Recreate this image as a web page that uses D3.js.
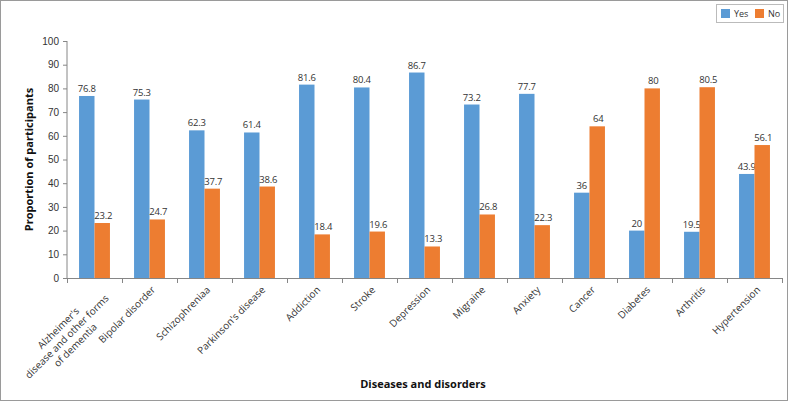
<!DOCTYPE html>
<html>
<head>
<meta charset="utf-8">
<script src="https://cdn.jsdelivr.net/npm/d3@7"></script>
<style>
  body { margin: 0; background: #fff; }
  svg { display: block; font-family: "Open Sans", sans-serif; }
  .axis path, .axis line { stroke: #868686; }
  .axis text { fill: #333; font-size: 10px; }
  .value { fill: #333; font-size: 9.5px; text-anchor: middle; letter-spacing: -0.2px; }
  .title { fill: #111; font-size: 11px; font-weight: bold; }
</style>
</head>
<body>
<div id="chart"></div>
<script>
  const categories = [
    ["Alzheimer's", 'disease and other forms', 'of dementia'],
    ['Bipolar disorder'], ['Schizophreniaa'], ["Parkinson's disease"],
    ['Addiction'], ['Stroke'], ['Depression'], ['Migraine'], ['Anxiety'],
    ['Cancer'], ['Diabetes'], ['Arthritis'], ['Hypertension']
  ];
  const yesValues = [76.8, 75.3, 62.3, 61.4, 81.6, 80.4, 86.7, 73.2, 77.7, 36, 20, 19.5, 43.9];
  const noValues = [23.2, 24.7, 37.7, 38.6, 18.4, 19.6, 13.3, 26.8, 22.3, 64, 80, 80.5, 56.1];
  const seriesNames = ['Yes', 'No'];
  const seriesColors = ['#5B9BD5', '#ED7D31'];
  const yTicks = [0, 10, 20, 30, 40, 50, 60, 70, 80, 90, 100];

  const width = 788, height = 401;
  const margin = { top: 41, right: 6, bottom: 123, left: 67 };
  const innerW = width - margin.left - margin.right;
  const innerH = height - margin.top - margin.bottom;

  const svg = d3.select('#chart').append('svg')
    .attr('width', width)
    .attr('height', height);

  // outer frame
  svg.append('rect')
    .attr('x', 0.5).attr('y', 0.5)
    .attr('width', width - 1).attr('height', height - 1)
    .attr('fill', 'none').attr('stroke', '#9a9a9a');

  const g = svg.append('g')
    .attr('transform', 'translate(' + margin.left + ',' + margin.top + ')');

  const idx = d3.range(categories.length);
  const x = d3.scaleBand().domain(idx).range([0, innerW]).paddingInner(0).paddingOuter(0);
  const x1 = d3.scaleBand().domain(d3.range(2)).range([0, x.bandwidth()]).paddingOuter(0.78).paddingInner(0);
  const y = d3.scaleLinear().domain([0, 100]).range([innerH, 0]);

  // y axis
  g.append('g')
    .attr('class', 'axis')
    .call(d3.axisLeft(y).tickValues(yTicks).tickSize(4).tickPadding(4))
    .call(s => s.select('.domain').attr('d', 'M0,' + innerH + 'V0'));

  // x axis with ticks at band edges
  const xAxisG = g.append('g')
    .attr('class', 'axis')
    .attr('transform', 'translate(0,' + innerH + ')');
  xAxisG.append('line')
    .attr('x1', 0).attr('x2', innerW)
    .attr('y1', 0.5).attr('y2', 0.5);
  xAxisG.selectAll('.tick')
    .data(d3.range(categories.length + 1))
    .enter().append('line')
    .attr('x1', d => Math.round(d * x.step()) + 0.5)
    .attr('x2', d => Math.round(d * x.step()) + 0.5)
    .attr('y1', 0).attr('y2', 5);

  // category labels, rotated
  const labels = xAxisG.selectAll('.cat')
    .data(categories)
    .enter().append('g')
    .attr('class', 'cat')
    .attr('transform', (d, i) => 'translate(' + (x(i) + x.bandwidth() / 2 + 4) + ',10) rotate(-45)');

  labels.each(function(lines) {
    const grp = d3.select(this);
    const texts = lines.map((t, j) => grp.append('text')
      .attr('y', j * 12)
      .attr('dy', '0.35em')
      .text(t));
    const maxW = d3.max(texts, t => t.node().getComputedTextLength());
    texts.forEach(t => t.attr('text-anchor', 'middle').attr('x', -maxW / 2));
  });

  // bars
  const series = [yesValues, noValues];
  series.forEach((vals, s) => {
    g.selectAll('.bar-' + s)
      .data(vals)
      .enter().append('rect')
      .attr('class', 'bar-' + s)
      .attr('x', (d, i) => x(i) + x1(s))
      .attr('y', d => y(d))
      .attr('width', x1.bandwidth())
      .attr('height', d => innerH - y(d))
      .attr('fill', seriesColors[s]);

    g.selectAll('.val-' + s)
      .data(vals)
      .enter().append('text')
      .attr('class', 'value')
      .attr('x', (d, i) => x(i) + x1(s) + x1.bandwidth() / 2 + (s ? 1 : 0))
      .attr('y', d => y(d) - 4)
      .text(d => d);
  });

  // axis titles
  svg.append('text')
    .attr('class', 'title')
    .attr('text-anchor', 'middle')
    .attr('transform', 'translate(33,' + (margin.top + innerH / 2) + ') rotate(-90)')
    .text('Proportion of participants');

  svg.append('text')
    .attr('class', 'title')
    .attr('text-anchor', 'middle')
    .attr('x', 423)
    .attr('y', 388)
    .text('Diseases and disorders');

  // legend
  const legend = svg.append('g').attr('transform', 'translate(716,4)');
  legend.append('rect')
    .attr('x', 0.5).attr('y', 0.5)
    .attr('width', 67).attr('height', 18)
    .attr('fill', '#fff').attr('stroke', '#bbb');
  const items = legend.selectAll('.item')
    .data(seriesNames)
    .enter().append('g')
    .attr('transform', (d, i) => 'translate(' + (5 + i * 34) + ',5)');
  items.append('rect')
    .attr('width', 9).attr('height', 9)
    .attr('fill', (d, i) => seriesColors[i]);
  items.append('text')
    .attr('x', 13).attr('y', 4.5)
    .attr('dy', '0.35em')
    .attr('font-size', 9)
    .attr('fill', '#333')
    .text(d => d);
</script>
</body>
</html>
